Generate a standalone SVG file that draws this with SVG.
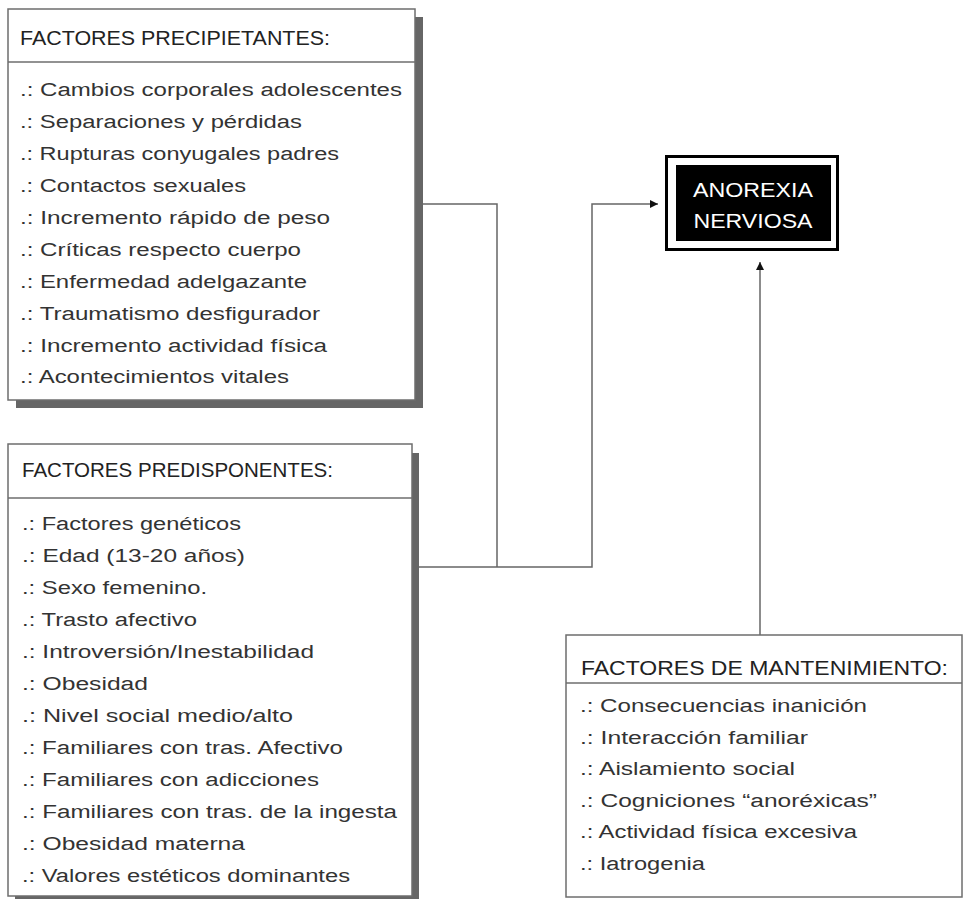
<svg xmlns="http://www.w3.org/2000/svg" width="966" height="899" viewBox="0 0 966 899">
<style>
.box{fill:#fff;stroke:#6e6e6e;stroke-width:1.5}
.shadow{fill:#666}
.div{stroke:#6e6e6e;stroke-width:1.5}
.hdr{font-family:"Liberation Sans",Arial,sans-serif;font-size:21px;fill:#222}
.it{font-family:"Liberation Sans",Arial,sans-serif;font-size:18px;fill:#333}
.title{font-family:"Liberation Sans",Arial,sans-serif;font-size:21px;fill:#fff}
.conn{fill:none;stroke:#666;stroke-width:1.5}
</style>
<defs>
<marker id="arr" viewBox="0 0 10 10" refX="10" refY="5" markerWidth="10" markerHeight="8" markerUnits="userSpaceOnUse" orient="auto">
<path d="M0,0 L10,5 L0,10 z" fill="#111"/>
</marker>
</defs>
<rect width="966" height="899" fill="#fff"/>

<g id="connectors">
<path class="conn" d="M415,204 H497 V567"/>
<path class="conn" d="M412,567 H592 V204 H658" marker-end="url(#arr)"/>
<path class="conn" d="M760,635 V262" marker-end="url(#arr)"/>
</g>

<g id="precipitantes">
<rect class="shadow" x="16" y="17" width="407" height="391"/>
<rect class="box" x="8" y="9" width="407" height="391"/>
<line class="div" x1="8" y1="62" x2="415" y2="62"/>
<text class="hdr" x="20" y="45" textLength="310" lengthAdjust="spacingAndGlyphs">FACTORES PRECIPIETANTES:</text>
<text class="it" x="20" y="96" textLength="382" lengthAdjust="spacingAndGlyphs">.: Cambios corporales adolescentes</text>
<text class="it" x="20" y="128" textLength="282" lengthAdjust="spacingAndGlyphs">.: Separaciones y pérdidas</text>
<text class="it" x="20" y="160" textLength="319" lengthAdjust="spacingAndGlyphs">.: Rupturas conyugales padres</text>
<text class="it" x="20" y="192" textLength="226" lengthAdjust="spacingAndGlyphs">.: Contactos sexuales</text>
<text class="it" x="20" y="224" textLength="310" lengthAdjust="spacingAndGlyphs">.: Incremento rápido de peso</text>
<text class="it" x="20" y="256" textLength="281" lengthAdjust="spacingAndGlyphs">.: Críticas respecto cuerpo</text>
<text class="it" x="20" y="288" textLength="287" lengthAdjust="spacingAndGlyphs">.: Enfermedad adelgazante</text>
<text class="it" x="20" y="320" textLength="300" lengthAdjust="spacingAndGlyphs">.: Traumatismo desfigurador</text>
<text class="it" x="20" y="352" textLength="307" lengthAdjust="spacingAndGlyphs">.: Incremento actividad física</text>
<text class="it" x="20" y="383" textLength="269" lengthAdjust="spacingAndGlyphs">.: Acontecimientos vitales</text>
</g>

<g id="predisponentes">
<rect class="shadow" x="15" y="453" width="404" height="450"/>
<rect class="box" x="8" y="444" width="404" height="452"/>
<line class="div" x1="8" y1="498" x2="412" y2="498"/>
<text class="hdr" x="22" y="477" textLength="311" lengthAdjust="spacingAndGlyphs">FACTORES PREDISPONENTES:</text>
<text class="it" x="22" y="530" textLength="219" lengthAdjust="spacingAndGlyphs">.: Factores genéticos</text>
<text class="it" x="22" y="562" textLength="223" lengthAdjust="spacingAndGlyphs">.: Edad (13-20 años)</text>
<text class="it" x="22" y="594" textLength="185" lengthAdjust="spacingAndGlyphs">.: Sexo femenino.</text>
<text class="it" x="22" y="626" textLength="175" lengthAdjust="spacingAndGlyphs">.: Trasto afectivo</text>
<text class="it" x="22" y="658" textLength="292" lengthAdjust="spacingAndGlyphs">.: Introversión/Inestabilidad</text>
<text class="it" x="22" y="690" textLength="126" lengthAdjust="spacingAndGlyphs">.: Obesidad</text>
<text class="it" x="22" y="722" textLength="271" lengthAdjust="spacingAndGlyphs">.: Nivel social medio/alto</text>
<text class="it" x="22" y="754" textLength="321" lengthAdjust="spacingAndGlyphs">.: Familiares con tras. Afectivo</text>
<text class="it" x="22" y="786" textLength="297" lengthAdjust="spacingAndGlyphs">.: Familiares con adicciones</text>
<text class="it" x="22" y="818" textLength="375" lengthAdjust="spacingAndGlyphs">.: Familiares con tras. de la ingesta</text>
<text class="it" x="22" y="850" textLength="223" lengthAdjust="spacingAndGlyphs">.: Obesidad materna</text>
<text class="it" x="22" y="882" textLength="328" lengthAdjust="spacingAndGlyphs">.: Valores estéticos dominantes</text>
</g>

<g id="anorexia">
<rect x="666.5" y="156.5" width="171" height="93" fill="#fff" stroke="#000" stroke-width="3"/>
<rect x="676" y="165" width="155" height="76" fill="#000"/>
<text class="title" x="753" y="197" text-anchor="middle" textLength="120" lengthAdjust="spacingAndGlyphs">ANOREXIA</text>
<text class="title" x="753" y="228" text-anchor="middle" textLength="119" lengthAdjust="spacingAndGlyphs">NERVIOSA</text>
</g>

<g id="mantenimiento">
<rect class="box" x="566" y="635" width="396" height="262"/>
<line class="div" x1="566" y1="683" x2="962" y2="683"/>
<text class="hdr" x="581" y="675" textLength="367" lengthAdjust="spacingAndGlyphs">FACTORES DE MANTENIMIENTO:</text>
<text class="it" x="580" y="712" textLength="287" lengthAdjust="spacingAndGlyphs">.: Consecuencias inanición</text>
<text class="it" x="580" y="744" textLength="228" lengthAdjust="spacingAndGlyphs">.: Interacción familiar</text>
<text class="it" x="580" y="775" textLength="215" lengthAdjust="spacingAndGlyphs">.: Aislamiento social</text>
<text class="it" x="580" y="807" textLength="297" lengthAdjust="spacingAndGlyphs">.: Cogniciones “anoréxicas”</text>
<text class="it" x="580" y="838" textLength="277" lengthAdjust="spacingAndGlyphs">.: Actividad física excesiva</text>
<text class="it" x="580" y="870" textLength="125" lengthAdjust="spacingAndGlyphs">.: Iatrogenia</text>
</g>
</svg>
